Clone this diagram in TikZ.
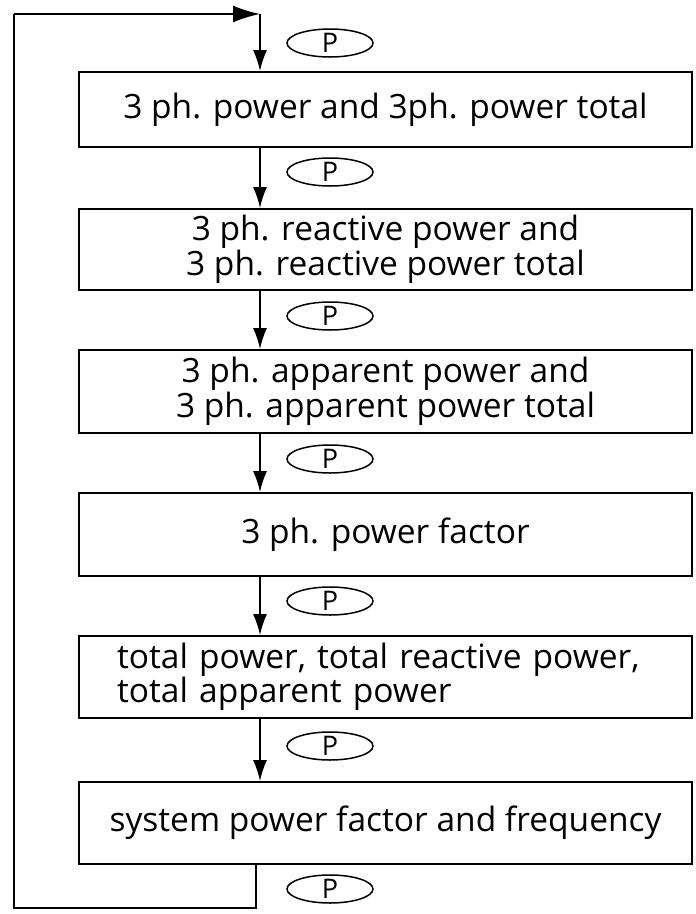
\documentclass[tikz,border=0pt]{standalone}
\usepackage{fontspec}
\setmainfont{Open Sans}
\usetikzlibrary{arrows.meta,shapes.geometric}
\begin{document}
\begin{tikzpicture}[x=1pt,y=-1pt,
  box/.style={draw,line width=1.8pt,minimum width=613pt,inner sep=0pt,font=\fontsize{33.5}{33}\selectfont,align=center},
  pel/.style={draw,ellipse,line width=1.5pt,minimum width=86pt,minimum height=28pt,inner sep=0pt,font=\fontsize{27}{27}\selectfont},
  flow/.style={line width=1.8pt,-{Latex[length=21pt,width=14pt]}},
  flowh/.style={line width=1.8pt,-{Latex[length=27pt,width=17pt]}},
  line/.style={line width=1.8pt}]
\useasboundingbox (0,0) rectangle (696,914);
\node[box,minimum height=75pt] (b1) at (385.5,109.5) {3 ph. power and 3ph. power total};
\node[box,minimum height=81pt] (b2) at (385.5,249.5) {3 ph. reactive power and\\3 ph. reactive power total};
\node[box,minimum height=83pt] (b3) at (385.5,391.5) {3 ph. apparent power and\\3 ph. apparent power total};
\node[box,minimum height=83pt] (b4) at (385.5,534.5) {3 ph. power factor};
\node[box,minimum height=82pt,align=left,text width=537pt] (b5) at (385.5,677) {total power, total reactive power,\\total apparent power};
\node[box,minimum height=82pt] (b6) at (385.5,823) {system power factor and frequency};
\foreach \n/\y in {p1/43,p2/172,p3/316,p4/459,p5/601,p6/746,p7/889}
  \node[pel] (\n) at (330,\y) {P};
\coordinate (c0) at (14,14);
\coordinate (c1) at (260,14);
\coordinate (c2) at (14,908);
\coordinate (c3) at (256,908);
\draw[flowh] (c0) -- (c1);
\draw[flow] (c1) -- (b1.north -| c1);
\draw[flow] (b1.south -| c1) -- (b2.north -| c1);
\draw[flow] (b2.south -| c1) -- (b3.north -| c1);
\draw[flow] (b3.south -| c1) -- (b4.north -| c1);
\draw[flow] (b4.south -| c1) -- (b5.north -| c1);
\draw[flow] (b5.south -| c1) -- (b6.north -| c1);
\draw[line] (b6.south -| c3) -- (c3) -- (c2) -- (c0);
\end{tikzpicture}
\end{document}
